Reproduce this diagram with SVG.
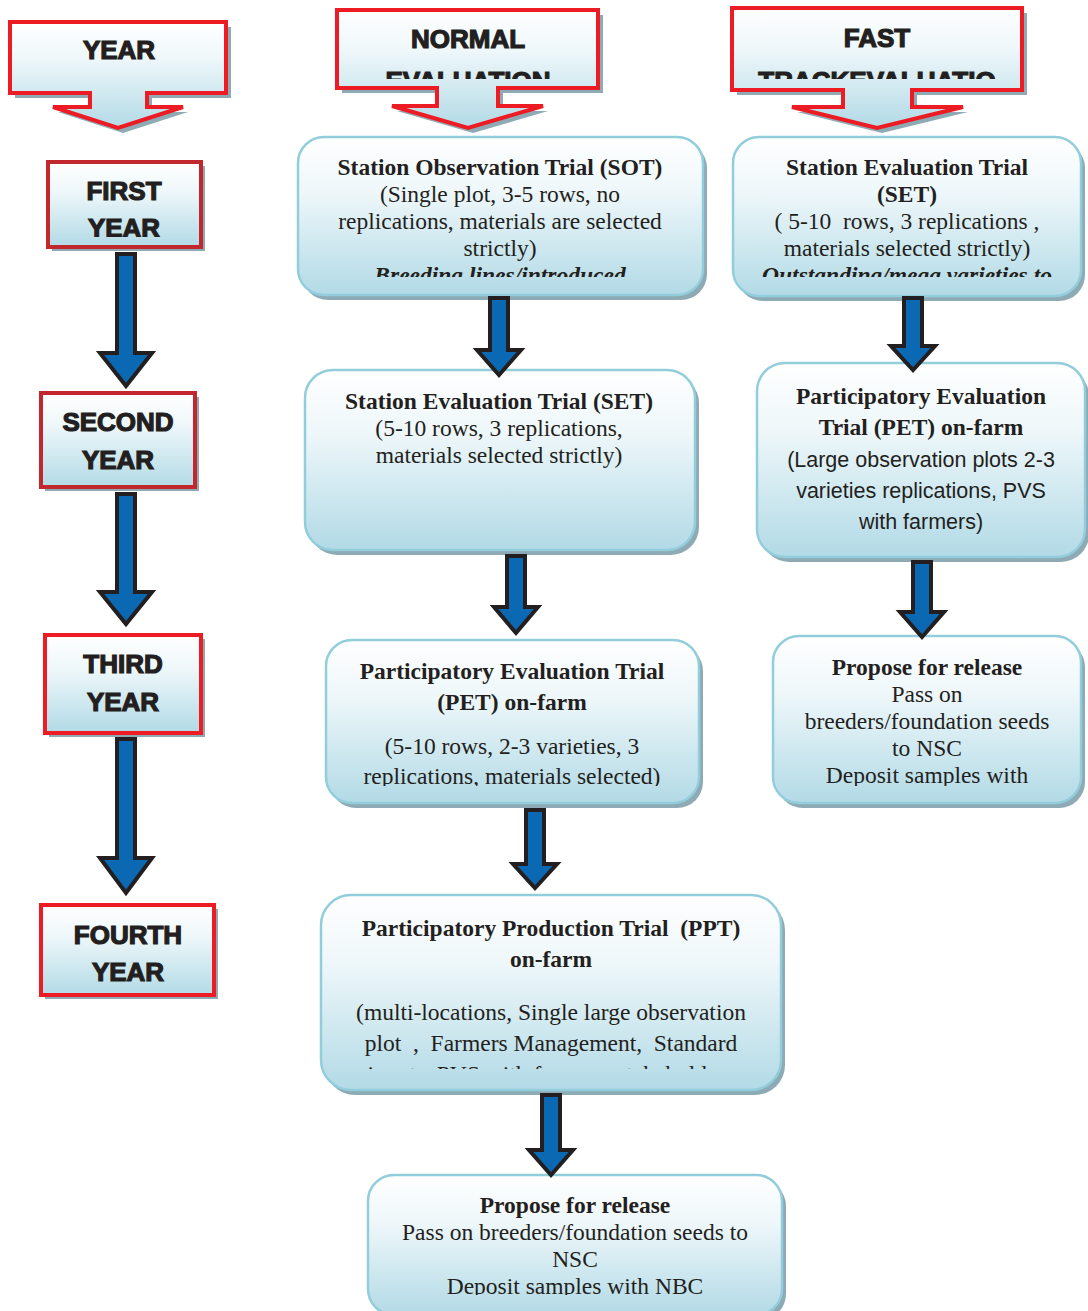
<svg xmlns="http://www.w3.org/2000/svg" width="1088" height="1311" viewBox="0 0 1088 1311">
<style>
.hdr{fill:url(#g);stroke:#ed1c24;stroke-width:4;stroke-linejoin:miter}
.yr1{fill:url(#g);stroke:#c1272d;stroke-width:4}
.yr2{fill:url(#g);stroke:#ed1c24;stroke-width:4}
.sh{fill:#8eaab4}
.nd{fill:url(#g);stroke:#92cddc;stroke-width:2.5}
.ht{font-family:"Liberation Sans",Arial,sans-serif;font-weight:bold;font-size:26px;fill:#231f20;stroke:#231f20;stroke-width:1.2;text-anchor:middle}
.t{font-family:"Liberation Serif","Times New Roman",serif;font-size:23.5px;fill:#231f20;text-anchor:middle}
.b{font-weight:bold}
.bi{font-weight:bold;font-style:italic}
.s{font-family:"Liberation Sans",Arial,sans-serif;font-size:21.5px}
.ar{fill:#0b69b4;stroke:#231f20;stroke-width:4;stroke-linejoin:miter}
</style>
<defs>
<linearGradient id="g" x1="0" y1="0" x2="0" y2="1">
<stop offset="0" stop-color="#ffffff"/>
<stop offset="0.35" stop-color="#eef7fa"/>
<stop offset="1" stop-color="#b2dae6"/>
</linearGradient>
<clipPath id="cN"><rect x="337" y="10" width="261" height="69"/></clipPath>
<clipPath id="cF"><rect x="732" y="8" width="290" height="71"/></clipPath>
<clipPath id="c1"><rect x="298" y="137" width="405" height="140"/></clipPath>
<clipPath id="c2"><rect x="733" y="137" width="348" height="140"/></clipPath>
<clipPath id="c3"><rect x="326" y="640" width="373" height="146"/></clipPath>
<clipPath id="c4"><rect x="773" y="636" width="308" height="150"/></clipPath>
<clipPath id="c5"><rect x="321" y="895" width="460" height="174"/></clipPath>
<clipPath id="c6"><rect x="368" y="1175" width="414" height="120"/></clipPath>
<clipPath id="cY"><rect x="48" y="162" width="153" height="75"/></clipPath>
</defs>
<rect width="1088" height="1311" fill="#ffffff"/>

<g id="hdr-year">
<path class="sh" d="M15,27 H231 V98 H152 V112 H188 L123,133 L58,112 H95 V98 H15 Z"/>
<path class="hdr" d="M10,22 H226 V93 H147 V107 H183 L118,128 L53,107 H90 V93 H10 Z"/>
<text class="ht" x="119" y="59">YEAR</text>
</g>
<g id="hdr-normal">
<path class="sh" d="M342,15 H603 V93 H503 V111 H548 L473,133 L397,111 H442 V93 H342 Z"/>
<path class="hdr" d="M337,10 H598 V88 H498 V106 H543 L468,128 L392,106 H437 V88 H337 Z"/>
<g clip-path="url(#cN)">
<text class="ht" x="468" y="48">NORMAL</text>
<text class="ht" x="468" y="90">EVALUATION</text>
</g>
</g>
<g id="hdr-fast">
<path class="sh" d="M737,13 H1027 V95 H917 V112 H968 L882,133 L797,112 H848 V95 H737 Z"/>
<path class="hdr" d="M732,8 H1022 V90 H912 V107 H963 L877,128 L792,107 H843 V90 H732 Z"/>
<g clip-path="url(#cF)">
<text class="ht" x="877" y="47">FAST</text>
<text class="ht" x="877" y="90">TRACKEVALUATIO</text>
</g>
</g>

<g id="year1">
<rect class="sh" x="52" y="166" width="153" height="85"/>
<rect class="yr1" x="48" y="162" width="153" height="85"/>
<text class="ht" x="124" y="200">FIRST</text>
<g clip-path="url(#cY)"><text class="ht" x="124" y="237">YEAR</text></g>
</g>
<g id="year2">
<rect class="sh" x="45" y="397" width="154" height="94"/>
<rect class="yr1" x="41" y="393" width="154" height="94"/>
<text class="ht" x="118" y="431">SECOND</text>
<text class="ht" x="118" y="469">YEAR</text>
</g>
<g id="year3">
<rect class="sh" x="49" y="639" width="156" height="98"/>
<rect class="yr2" x="45" y="635" width="156" height="98"/>
<text class="ht" x="123" y="673">THIRD</text>
<text class="ht" x="123" y="711">YEAR</text>
</g>
<g id="year4">
<rect class="sh" x="45" y="909" width="173" height="90"/>
<rect class="yr2" x="41" y="905" width="173" height="90"/>
<text class="ht" x="128" y="944">FOURTH</text>
<text class="ht" x="128" y="981">YEAR</text>
</g>

<g id="sot">
<rect class="sh" x="302" y="142" width="405" height="158" rx="26"/>
<rect class="nd" x="298" y="137" width="405" height="158" rx="26"/>
<g clip-path="url(#c1)" class="t">
<text x="500" y="175" class="b">Station Observation Trial (SOT)</text>
<text x="500" y="202">(Single plot, 3-5 rows, no</text>
<text x="500" y="229">replications, materials are selected</text>
<text x="500" y="256">strictly)</text>
<text x="500" y="283" class="bi">Breeding lines/introduced</text>
</g>
</g>
<g id="fset">
<rect class="sh" x="737" y="142" width="348" height="159" rx="26"/>
<rect class="nd" x="733" y="137" width="348" height="159" rx="26"/>
<g clip-path="url(#c2)" class="t">
<text x="907" y="175" class="b">Station Evaluation Trial</text>
<text x="907" y="202" class="b">(SET)</text>
<text x="907" y="229" xml:space="preserve">( 5-10  rows, 3 replications ,</text>
<text x="907" y="256">materials selected strictly)</text>
<text x="907" y="283" class="bi">Outstanding/mega varieties to</text>
</g>
</g>
<g id="set">
<rect class="sh" x="309" y="375" width="390" height="180" rx="28"/>
<rect class="nd" x="305" y="370" width="390" height="180" rx="28"/>
<g class="t">
<text x="499" y="409" class="b">Station Evaluation Trial (SET)</text>
<text x="499" y="436">(5-10 rows, 3 replications,</text>
<text x="499" y="463">materials selected strictly)</text>
</g>
</g>
<g id="fpet">
<rect class="sh" x="761" y="368" width="328" height="194" rx="28"/>
<rect class="nd" x="757" y="363" width="328" height="194" rx="28"/>
<g class="t">
<text x="921" y="404" class="b">Participatory Evaluation</text>
<text x="921" y="435" class="b">Trial (PET) on-farm</text>
<text x="921" y="467" class="s">(Large observation plots 2-3</text>
<text x="921" y="498" class="s">varieties replications, PVS</text>
<text x="921" y="529" class="s">with farmers)</text>
</g>
</g>
<g id="pet">
<rect class="sh" x="330" y="645" width="373" height="163" rx="26"/>
<rect class="nd" x="326" y="640" width="373" height="163" rx="26"/>
<g clip-path="url(#c3)" class="t">
<text x="512" y="679" class="b">Participatory Evaluation Trial</text>
<text x="512" y="710" class="b">(PET) on-farm</text>
<text x="512" y="754">(5-10 rows, 2-3 varieties, 3</text>
<text x="512" y="784">replications, materials selected)</text>
</g>
</g>
<g id="fprop">
<rect class="sh" x="777" y="641" width="308" height="167" rx="26"/>
<rect class="nd" x="773" y="636" width="308" height="167" rx="26"/>
<g clip-path="url(#c4)" class="t">
<text x="927" y="675" class="b">Propose for release</text>
<text x="927" y="702">Pass on</text>
<text x="927" y="729">breeders/foundation seeds</text>
<text x="927" y="756">to NSC</text>
<text x="927" y="783">Deposit samples with</text>
</g>
</g>
<g id="ppt">
<rect class="sh" x="325" y="900" width="460" height="195" rx="30"/>
<rect class="nd" x="321" y="895" width="460" height="195" rx="30"/>
<g clip-path="url(#c5)" class="t">
<text x="551" y="936" class="b" xml:space="preserve">Participatory Production Trial  (PPT)</text>
<text x="551" y="967" class="b">on-farm</text>
<text x="551" y="1020">(multi-locations, Single large observation</text>
<text x="551" y="1051" xml:space="preserve">plot  ,  Farmers Management,  Standard</text>
<text x="551" y="1082">inputs, PVS with farmers, stakeholders</text>
</g>
</g>
<g id="prop">
<rect class="sh" x="372" y="1180" width="414" height="140" rx="26"/>
<rect class="nd" x="368" y="1175" width="414" height="140" rx="26"/>
<g clip-path="url(#c6)" class="t">
<text x="575" y="1213" class="b">Propose for release</text>
<text x="575" y="1240">Pass on breeders/foundation seeds to</text>
<text x="575" y="1267">NSC</text>
<text x="575" y="1294">Deposit samples with NBC</text>
</g>
</g>

<g id="connectors">
<path class="ar" d="M117,254 H135 V353 H152 L126,386 L100,353 H117 Z"/>
<path class="ar" d="M117,494 H135 V592 H152 L126,624 L100,592 H117 Z"/>
<path class="ar" d="M117,739 H135 V858 H152 L126,893 L100,858 H117 Z"/>
<path class="ar" d="M490,298 H508 V350 H521 L499,375 L477,350 H490 Z"/>
<path class="ar" d="M507,556 H525 V607 H538 L516,633 L494,607 H507 Z"/>
<path class="ar" d="M526,810 H544 V864 H557 L535,888 L513,864 H526 Z"/>
<path class="ar" d="M542,1095 H560 V1150 H573 L551,1175 L529,1150 H542 Z"/>
<path class="ar" d="M904,298 H922 V346 H935 L913,370 L891,346 H904 Z"/>
<path class="ar" d="M913,562 H931 V612 H944 L922,637 L900,612 H913 Z"/>
</g>
</svg>
